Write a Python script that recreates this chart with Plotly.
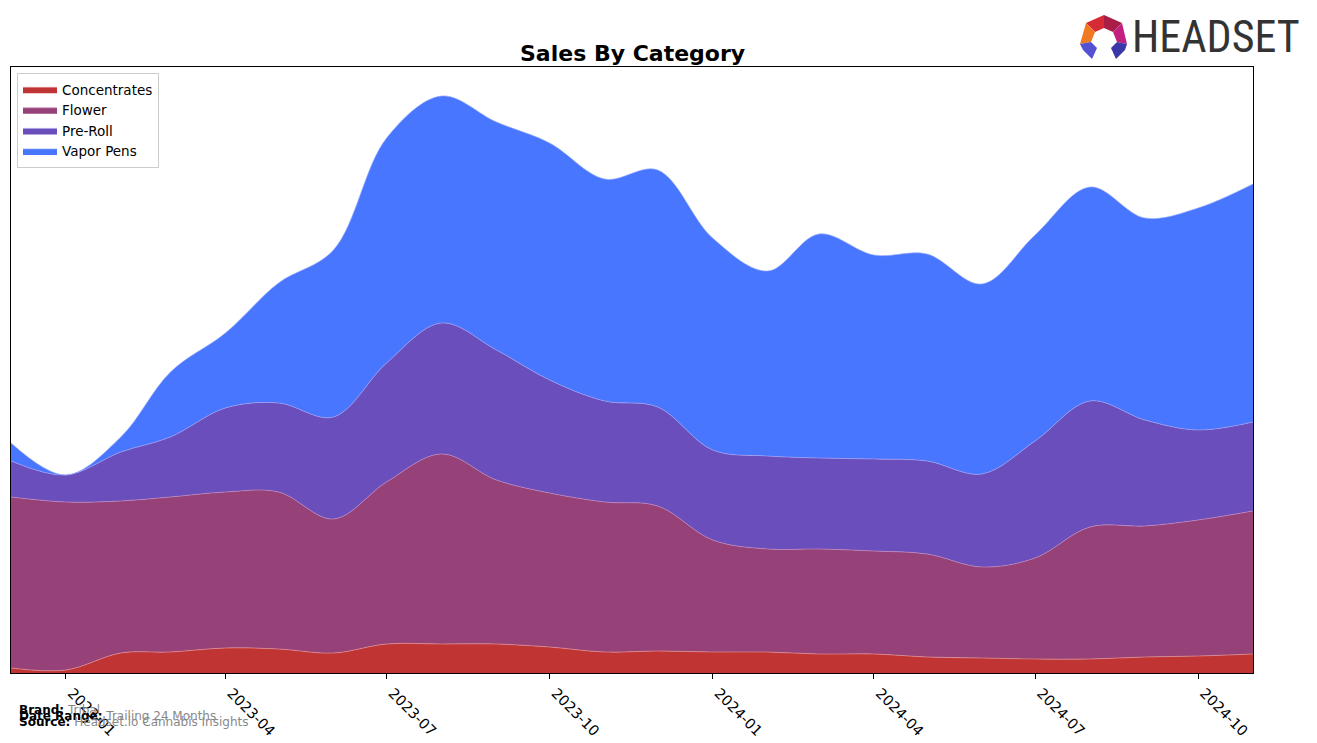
import plotly.graph_objects as go

months = ["2022-12-01", "2023-01-01", "2023-02-01", "2023-03-01", "2023-04-01", "2023-05-01",
          "2023-06-01", "2023-07-01", "2023-08-01", "2023-09-01", "2023-10-01", "2023-11-01",
          "2023-12-01", "2024-01-01", "2024-02-01", "2024-03-01", "2024-04-01", "2024-05-01",
          "2024-06-01", "2024-07-01", "2024-08-01", "2024-09-01", "2024-10-01", "2024-11-01"]

concentrates = [5, 3, 20, 21, 25, 24, 20, 29, 29, 29, 26, 21, 22, 21, 21, 19, 19, 16, 15, 14, 14, 16, 17, 19]
flower = [171, 168, 152, 155, 156, 157, 134, 162, 190, 164, 154, 150, 145, 112, 103, 105, 103, 103, 91, 101, 132, 131, 136, 143]
pre_roll = [36, 27, 49, 60, 84, 89, 102, 119, 131, 130, 113, 101, 99, 90, 93, 91, 92, 93, 93, 117, 126, 106, 90, 89]
vapor_pens = [18, 0, 15, 65, 75, 120, 167, 225, 227, 228, 237, 222, 237, 212, 185, 224, 204, 207, 190, 206, 214, 202, 222, 238]

tick_vals = ["2023-01-01", "2023-04-01", "2023-07-01", "2023-10-01",
             "2024-01-01", "2024-04-01", "2024-07-01", "2024-10-01"]
tick_text = ["2023-01", "2023-04", "2023-07", "2023-10",
             "2024-01", "2024-04", "2024-07", "2024-10"]

series = [
    ("Concentrates", concentrates, "#C13434", "rgba(230,150,150,0.8)"),
    ("Flower", flower, "#964178", "rgba(200,140,190,0.8)"),
    ("Pre-Roll", pre_roll, "#694EBC", "rgba(170,160,240,0.8)"),
    ("Vapor Pens", vapor_pens, "#4876FF", "rgba(150,170,255,0.8)"),
]

fig = go.Figure()
for name, vals, fillc, linec in series:
    fig.add_trace(go.Scatter(
        x=months, y=vals, name=name, mode="lines", stackgroup="one",
        line=dict(shape="spline", smoothing=1.0, width=0.8, color=linec),
        fillcolor=fillc,
    ))

W, H = 1317, 743
L, R, T, B = 11, 1253, 67, 673


def px(x):
    return (x - L) / (R - L)


def py(y):
    return (B - y) / (B - T)


def poly(points, color):
    path = "M " + " L ".join(f"{px(x):.5f},{py(y):.5f}" for x, y in points) + " Z"
    return dict(type="path", xref="paper", yref="paper", path=path,
                fillcolor=color, line=dict(width=0), layer="above")


shapes = [
    poly([(1086, 23), (1104, 15), (1104, 28), (1095, 32)], "#D62B35"),
    poly([(1104, 15), (1122, 23), (1113, 32), (1104, 28)], "#A81E45"),
    poly([(1086, 23), (1095, 32), (1091, 42), (1080, 44)], "#F07A22"),
    poly([(1122, 23), (1113, 32), (1117, 42), (1127, 44)], "#C2207E"),
    poly([(1080, 44), (1091, 42), (1097, 48), (1092, 59), (1083, 50)], "#5452D2"),
    poly([(1127, 44), (1117, 42), (1111, 48), (1116, 59), (1125, 50)], "#3A38A8"),
]

annotations = [
    dict(text="<b>Sales By Category</b>", x=0.5, xref="paper", y=py(53), yref="paper",
         showarrow=False, font=dict(size=22, color="black", family="DejaVu Sans"),
         xanchor="center", yanchor="middle"),
    dict(text="HEADSET", x=px(1302), xref="paper", y=py(37), yref="paper",
         showarrow=False, font=dict(size=44, color="#333333", family="Liberation Sans Narrow, Roboto Condensed, Roboto"),
         xanchor="right", yanchor="middle"),
    dict(text="<b>Brand:</b> <span style='color:#888888'>Tribal</span>", x=px(19), xref="paper",
         y=py(710), yref="paper", showarrow=False, xanchor="left", yanchor="middle", xshift=-2,
         font=dict(size=12, color="black", family="DejaVu Sans")),
    dict(text="<b>Date Range:</b> <span style='color:#888888'>Trailing 24 Months</span>", x=px(19), xref="paper",
         y=py(716), yref="paper", showarrow=False, xanchor="left", yanchor="middle", xshift=-2,
         font=dict(size=12, color="black", family="DejaVu Sans")),
    dict(text="<b>Source:</b> <span style='color:#888888'>Headset.io Cannabis Insights</span>", x=px(19), xref="paper",
         y=py(722), yref="paper", showarrow=False, xanchor="left", yanchor="middle", xshift=-2,
         font=dict(size=12, color="black", family="DejaVu Sans")),
]

fig.update_layout(
    width=W, height=H,
    margin=dict(l=L, r=W - R, t=T, b=H - B, pad=0, autoexpand=False),
    paper_bgcolor="white", plot_bgcolor="white",
    font=dict(family="DejaVu Sans", size=13.5, color="black"),
    showlegend=True,
    legend=dict(x=px(17), y=py(73), xanchor="left", yanchor="top",
                traceorder="normal", bgcolor="white", bordercolor="#CCCCCC", borderwidth=1,
                font=dict(size=13.5, family="DejaVu Sans"), itemwidth=34, tracegroupgap=0),
    shapes=shapes,
    annotations=annotations,
)
fig.update_xaxes(
    type="date", range=[months[0], months[-1]], automargin=False,
    tickvals=tick_vals, ticktext=tick_text, tickangle=45, ticklabelshift=6,
    ticks="outside", ticklen=5, tickcolor="black",
    showline=True, linecolor="black", linewidth=1, mirror=True,
    showgrid=False, zeroline=False, tickfont=dict(size=14.5),
)
fig.update_yaxes(
    range=[0, 606], showticklabels=False, ticks="", automargin=False,
    showline=True, linecolor="black", linewidth=1, mirror=True,
    showgrid=False, zeroline=False,
)

fig.write_html("out.html")
